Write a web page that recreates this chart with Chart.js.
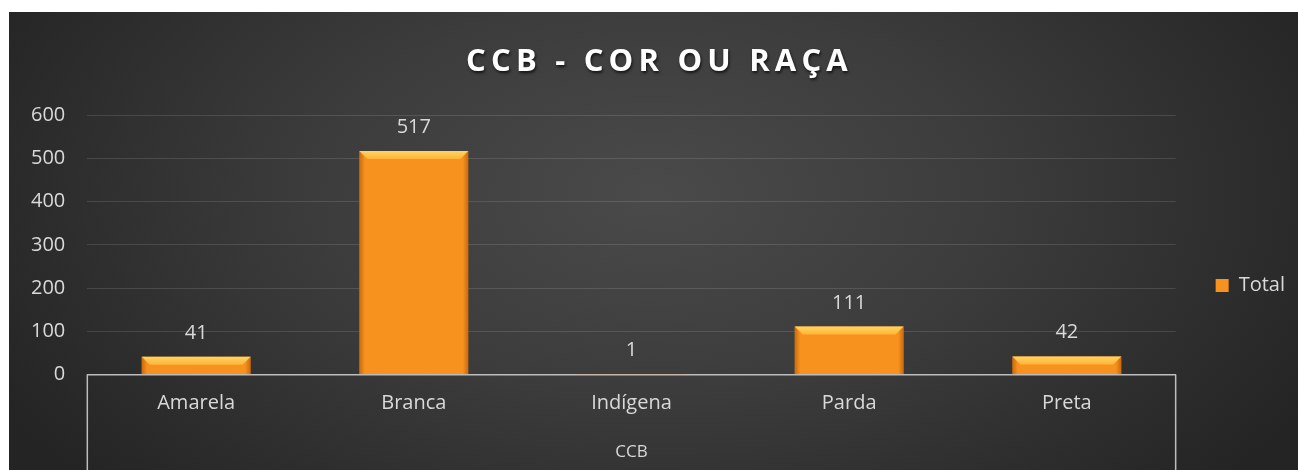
<!DOCTYPE html>
<html>
<head>
<meta charset="utf-8">
<title>CCB - COR OU RAÇA</title>
<script src="https://cdn.jsdelivr.net/npm/chart.js@4.4.1/dist/chart.umd.min.js"></script>
<style>
  html, body { margin: 0; padding: 0; background: #fff; }
  body { width: 1298px; height: 470px; overflow: hidden; position: relative; }
  #wrap {
    position: absolute; left: 9px; top: 12px; width: 1289px; height: 458px;
    background: radial-gradient(ellipse 58% 95% at 50% 40%, #4a4a4a 0%, #3c3c3c 45%, #242424 100%);
  }
</style>
</head>
<body>
<div id="wrap"><canvas id="chart" width="1289" height="458"></canvas></div>
<script>
// ===== Data =====
const chartTitle = 'CCB - COR OU RAÇA';
const groupLabel = 'CCB';
const seriesName = 'Total';
const categories = ['Amarela', 'Branca', 'Indígena', 'Parda', 'Preta'];
const totals = [41, 517, 1, 111, 42];
const yTicks = [0, 100, 200, 300, 400, 500, 600];

// ===== Style =====
const FONT = '"Open Sans", "DejaVu Sans", sans-serif';
const TEXT = '#d9d9d9';
const ORANGE = '#f8921e';
const AXIS = '#bdbdbd';

// ===== Plugins =====
// orange bars get a bevel on top and darker sides
const barShading = {
  id: 'barShading',
  afterDatasetsDraw(chart) {
    const ctx = chart.ctx;
    chart.getDatasetMeta(0).data.forEach(bar => {
      const { x, y, base, width } = bar.getProps(['x', 'y', 'base', 'width'], true);
      const left = x - width / 2, right = x + width / 2, h = base - y;
      if (h < 2) return;
      ctx.save();
      const side = ctx.createLinearGradient(left, 0, right, 0);
      side.addColorStop(0, 'rgba(170,80,0,0.6)');
      side.addColorStop(0.05, 'rgba(170,80,0,0)');
      side.addColorStop(0.95, 'rgba(170,80,0,0)');
      side.addColorStop(1, 'rgba(170,80,0,0.6)');
      ctx.fillStyle = side;
      ctx.fillRect(left, y, width, h);
      const bev = Math.min(8, h / 2);
      const top = ctx.createLinearGradient(0, y, 0, y + bev);
      top.addColorStop(0, '#ffd560');
      top.addColorStop(1, '#ffb43a');
      ctx.fillStyle = top;
      ctx.beginPath();
      ctx.moveTo(left, y);
      ctx.lineTo(right, y);
      ctx.lineTo(right - bev, y + bev);
      ctx.lineTo(left + bev, y + bev);
      ctx.closePath();
      ctx.fill();
      ctx.restore();
    });
  }
};

const valueLabels = {
  id: 'valueLabels',
  afterDatasetsDraw(chart) {
    const ctx = chart.ctx;
    ctx.save();
    ctx.font = '20px ' + FONT;
    ctx.fillStyle = TEXT;
    ctx.textAlign = 'center';
    ctx.textBaseline = 'alphabetic';
    chart.getDatasetMeta(0).data.forEach((bar, i) => {
      ctx.fillText(String(totals[i]), bar.x, bar.y - 18);
    });
    ctx.restore();
  }
};

// outer boundaries of the "CCB" category group
const groupLines = {
  id: 'groupLines',
  afterDraw(chart) {
    const { ctx, chartArea } = chart;
    ctx.save();
    ctx.strokeStyle = AXIS;
    ctx.lineWidth = 1.5;
    ctx.beginPath();
    [chartArea.left, chartArea.right].forEach(px => {
      ctx.moveTo(px, chartArea.bottom);
      ctx.lineTo(px, chart.height);
    });
    ctx.stroke();
    ctx.restore();
  }
};

const spacedTitle = {
  id: 'spacedTitle',
  afterDraw(chart) {
    const ctx = chart.ctx;
    ctx.save();
    ctx.font = 'bold 31px ' + FONT;
    ctx.letterSpacing = '5.2px';
    ctx.fillStyle = '#ffffff';
    ctx.textAlign = 'center';
    ctx.textBaseline = 'middle';
    ctx.shadowColor = 'rgba(0,0,0,0.7)';
    ctx.shadowOffsetX = 1;
    ctx.shadowOffsetY = 2;
    ctx.shadowBlur = 3;
    ctx.fillText(chartTitle, chart.width / 2 + 6, 50);
    ctx.restore();
  }
};

// ===== Chart =====
new Chart(document.getElementById('chart'), {
  type: 'bar',
  data: {
    labels: categories,
    datasets: [{
      label: seriesName,
      data: totals,
      backgroundColor: ORANGE,
      borderWidth: 0,
      categoryPercentage: 1,
      barPercentage: 0.5
    }]
  },
  options: {
    responsive: false,
    animation: false,
    devicePixelRatio: 1,
    layout: { padding: { top: 103, left: 0, right: 3, bottom: 0 } },
    plugins: {
      title: { display: false },
      tooltip: { enabled: false },
      legend: {
        position: 'right',
        align: 'start',
        title: { display: true, text: '', padding: { top: 106, bottom: 0 }, font: { size: 12 } },
        labels: {
          color: TEXT,
          font: { family: FONT, size: 20 },
          boxWidth: 13,
          boxHeight: 13,
          padding: 40
        }
      }
    },
    scales: {
      x: {
        grid: { display: false, drawTicks: false },
        border: { display: true, color: AXIS, width: 1.5 },
        ticks: { color: TEXT, font: { family: FONT, size: 20 }, padding: 17 },
        title: {
          display: true,
          text: groupLabel,
          color: TEXT,
          font: { family: FONT, size: 17 },
          padding: { top: 9, bottom: 8 }
        }
      },
      y: {
        min: yTicks[0],
        max: yTicks[yTicks.length - 1],
        afterBuildTicks: axis => { axis.ticks = yTicks.map(v => ({ value: v })); },
        grid: { color: 'rgba(255,255,255,0.12)', drawTicks: false },
        border: { display: false },
        ticks: { color: TEXT, font: { family: FONT, size: 20 }, padding: 22 }
      }
    }
  },
  plugins: [barShading, valueLabels, groupLines, spacedTitle]
});
</script>
</body>
</html>
